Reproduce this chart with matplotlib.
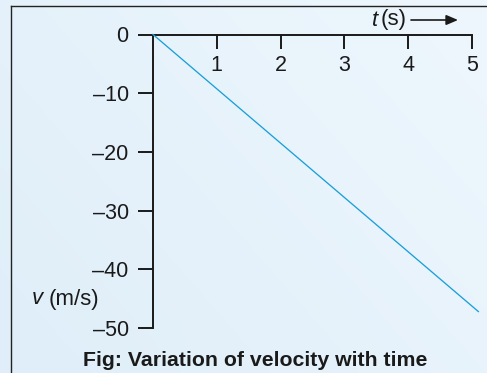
import matplotlib
matplotlib.use("Agg")
import matplotlib.pyplot as plt
import numpy as np

# data
time_s = [0, 5.1]
velocity = [0, -47.2]
x_ticks = [1, 2, 3, 4, 5]
x_labels = ["1", "2", "3", "4", "5"]
y_ticks = [0, -10, -20, -30, -40, -50]
y_labels = ["0", "–10", "–20", "–30", "–40", "–50"]
caption = "Fig: Variation of velocity with time"

plt.rcParams['font.family'] = ['Liberation Sans', 'DejaVu Sans']

W, H = 487, 373
fig = plt.figure(figsize=(W / 100, H / 100), dpi=100)

# background gradient
bg = fig.add_axes([0, 0, 1, 1], zorder=-5)
gx, gy = np.meshgrid(np.linspace(0, 1, 200), np.linspace(0, 1, 200))
g = (gx * 0.6 + (1 - gy) * 0.4)
c0 = np.array([0xdf, 0xee, 0xf9]) / 255
c1 = np.array([0xee, 0xf7, 0xfd]) / 255
img = c0[None, None, :] * (1 - g[..., None]) + c1[None, None, :] * g[..., None]
bg.imshow(img, aspect='auto', extent=[0, 1, 0, 1], origin='upper')
bg.axis('off')

# frame border (left and top visible)
fig.add_artist(plt.Line2D([11 / W, 11 / W], [0, 1 - 6 / H], color='#222222', lw=1.0))
fig.add_artist(plt.Line2D([11 / W, 1], [1 - 6 / H, 1 - 6 / H], color='#222222', lw=1.0))

left, right = 153 / W, 472 / W
top, bottom = 1 - 34.5 / H, 1 - 328 / H
ax = fig.add_axes([left, bottom, right - left, top - bottom])
ax.set_facecolor('none')
ax.plot(time_s, velocity, color='#1aa0d8', lw=0.95, clip_on=False, zorder=3)
ax.set_xlim(0, 5)
ax.set_ylim(-50, 0)

for s in ['right', 'top']:
    ax.spines[s].set_visible(False)
ax.spines['bottom'].set_position(('data', 0))
ax.spines['left'].set_linewidth(1.4)
ax.spines['bottom'].set_linewidth(1.4)
ax.spines['left'].set_color('#1a1a1a')
ax.spines['bottom'].set_color('#1a1a1a')

ax.set_xticks(x_ticks)
ax.set_xticklabels(x_labels)
ax.set_yticks(y_ticks)
ax.set_yticklabels(y_labels)
ax.tick_params(axis='x', direction='out', length=10, width=1.4, pad=5,
               labelsize=15.5, color='#1a1a1a', labelcolor='#1a1a1a')
ax.tick_params(axis='y', direction='out', length=11, width=1.4, pad=6.5,
               labelsize=15.5, color='#1a1a1a', labelcolor='#1a1a1a')

# axis labels
fig.text(372 / W, 1 - 20 / H, "t", fontsize=16, style='italic', ha='left',
         va='center', color='#1a1a1a')
fig.text(381 / W, 1 - 20 / H, "(s)", fontsize=16, ha='left', va='center', color='#1a1a1a')
fig.add_artist(matplotlib.patches.FancyArrowPatch(
    (411 / W, 1 - 20 / H), (458 / W, 1 - 20 / H), transform=fig.transFigure,
    arrowstyle='-|>,head_length=7,head_width=3', color='#1a1a1a', lw=1.2,
    mutation_scale=1, shrinkA=0, shrinkB=0))
fig.text(32 / W, 1 - 299 / H, "v", fontsize=16, style='italic', ha='left',
         va='center', color='#1a1a1a')
fig.text(49 / W, 1 - 299 / H, "(m/s)", fontsize=16, ha='left', va='center', color='#1a1a1a')

fig.text(255 / W, 1 - 360 / H, caption, fontsize=15.3, fontweight='bold',
         ha='center', va='center', color='#1a1a1a')

fig.savefig("out.png", dpi=100)
